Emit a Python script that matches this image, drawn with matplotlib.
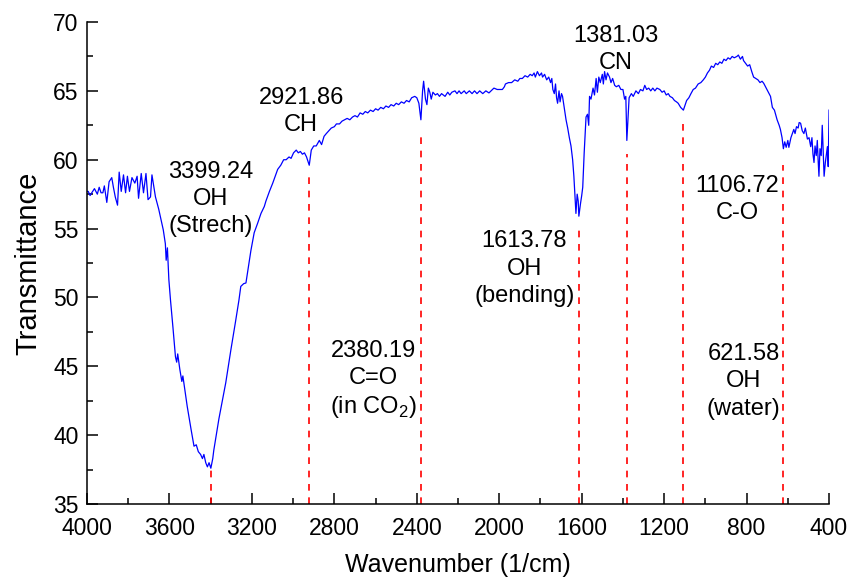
import matplotlib
matplotlib.use("Agg")
import matplotlib.pyplot as plt
from matplotlib.ticker import MultipleLocator

# スペクトル
wavenumber = [
    4000, 3994, 3985, 3977, 3964, 3950, 3941, 3932, 3923, 3916, 3904, 3893, 3880, 3872,
    3863, 3852, 3844, 3834, 3823, 3813, 3804, 3794, 3782, 3768, 3757, 3750, 3737, 3726,
    3714, 3704, 3692, 3685, 3668, 3652, 3640, 3630, 3620, 3616, 3610, 3603, 3595, 3583,
    3571, 3565, 3560, 3550, 3540, 3535, 3514, 3495, 3481, 3470, 3460, 3449, 3440, 3433,
    3424, 3416, 3408, 3399.24, 3390, 3385, 3360, 3327, 3302, 3280, 3263, 3254, 3240, 3229,
    3215, 3205, 3189, 3172, 3156, 3140, 3132, 3115, 3099, 3087, 3075, 3060, 3046, 3034,
    3020, 3010, 2998, 2985, 2975, 2965, 2955, 2945, 2935, 2921.86, 2912, 2900, 2888, 2873,
    2862, 2850, 2839, 2827, 2815, 2800, 2790, 2775, 2763, 2751, 2738, 2725, 2712, 2700,
    2688, 2675, 2662, 2650, 2638, 2625, 2612, 2600, 2588, 2575, 2562, 2550, 2537, 2525,
    2512, 2500, 2488, 2475, 2462, 2450, 2437, 2425, 2410, 2400, 2390, 2380.19, 2372, 2367,
    2358, 2351, 2344, 2337, 2330, 2322, 2310, 2300, 2290, 2280, 2263, 2250, 2240, 2230,
    2215, 2205, 2195, 2185, 2170, 2160, 2145, 2132, 2120, 2108, 2095, 2080, 2065, 2050,
    2040, 2026, 2010, 1985, 1975, 1970, 1955, 1940, 1925, 1910, 1900, 1888, 1875, 1862,
    1850, 1840, 1831, 1825, 1815, 1805, 1795, 1790, 1780, 1770, 1760, 1751, 1745, 1740,
    1733, 1727, 1722, 1717, 1710, 1705, 1698, 1693, 1685, 1676, 1668, 1660, 1652, 1644,
    1638, 1635, 1628, 1622, 1617, 1613.78, 1606, 1600, 1595, 1588, 1579, 1572, 1566, 1562,
    1555, 1545, 1538, 1530, 1524, 1517, 1510, 1500, 1495, 1489, 1482, 1475, 1465, 1458,
    1450, 1440, 1432, 1420, 1410, 1400, 1392, 1386, 1381.03, 1370, 1359, 1350, 1337, 1325,
    1315, 1303, 1294, 1285, 1275, 1265, 1255, 1245, 1235, 1221, 1210, 1200, 1190, 1180,
    1172, 1160, 1150, 1140, 1132, 1120, 1106.72, 1100, 1091, 1080, 1070, 1059, 1048, 1035,
    1022, 1010, 1000, 990, 980, 971, 960, 950, 940, 930, 920, 910, 900, 890,
    880, 870, 860, 847, 840, 830, 820, 815, 805, 795, 785, 775, 766, 755,
    745, 735, 725, 717, 705, 695, 684, 675, 665, 652, 642, 636, 628, 621.58,
    615, 608, 600, 595, 585, 578, 571, 565, 558, 550, 545, 538, 530, 522,
    515, 505, 497, 489, 483, 478, 473, 468, 462, 457, 453, 449, 444, 438,
    433, 428, 424, 418, 412, 408, 404, 400,
]
transmittance = [
    57.7, 57.7, 57.4, 57.6, 57.9, 57.5, 58.0, 57.6, 57.6, 58.1, 56.9, 58.4, 58.7, 58.0,
    57.3, 56.7, 59.1, 57.7, 58.9, 57.6, 58.8, 57.7, 58.7, 58.3, 58.8, 57.2, 59.0, 57.6,
    59.0, 57.1, 57.3, 58.9, 57.3, 56.4, 55.6, 54.9, 53.9, 52.7, 53.6, 51.3, 49.8, 47.8,
    45.7, 45.3, 45.9, 44.8, 43.9, 44.3, 42.1, 40.4, 39.2, 39.3, 38.8, 38.6, 38.3, 38.6,
    38.0, 37.7, 38.0, 37.6, 38.3, 38.9, 41.2, 43.8, 46.2, 48.2, 49.8, 50.8, 51.0, 51.05,
    52.4, 53.4, 54.7, 55.4, 56.1, 56.6, 57.0, 57.7, 58.3, 58.8, 59.3, 59.6, 60.0, 60.0,
    60.2, 60.1, 60.5, 60.7, 60.5, 60.6, 60.4, 60.5, 60.2, 59.6, 60.7, 61.0, 61.0, 61.4,
    61.1, 61.7, 61.9, 62.1, 62.3, 62.4, 62.6, 62.6, 62.8, 62.9, 63.0, 62.9, 63.1, 63.2,
    63.1, 63.4, 63.3, 63.5, 63.4, 63.6, 63.5, 63.7, 63.6, 63.8, 63.7, 63.9, 63.8, 64.0,
    63.9, 64.1, 64.0, 64.2, 64.1, 64.3, 64.2, 64.5, 64.6, 64.5, 64.1, 62.9, 65.0, 65.7,
    64.4, 64.0, 65.2, 64.9, 64.4, 64.9, 64.7, 64.8, 64.6, 64.8, 64.6, 64.9, 64.7, 64.9,
    65.0, 64.8, 65.0, 64.8, 65.0, 64.8, 65.0, 64.8, 65.0, 64.8, 65.0, 64.8, 65.0, 64.85,
    65.0, 65.2, 65.1, 65.1, 65.3, 65.5, 65.6, 65.6, 65.8, 65.7, 65.9, 65.9, 66.1, 66.0,
    66.2, 66.1, 66.3, 66.0, 66.4, 66.1, 66.3, 66.0, 66.2, 65.8, 66.0, 65.6, 65.9, 65.1,
    64.8, 65.5, 64.5, 64.1, 65.0, 64.2, 64.8, 64.6, 63.8, 62.9, 62.3, 61.6, 61.0, 60.0,
    58.8, 58.0, 56.1, 57.5, 57.0, 55.9, 56.8, 57.4, 58.0, 60.5, 63.1, 63.3, 62.5, 64.6,
    64.4, 65.2, 64.7, 65.9, 64.9, 66.0, 65.6, 66.2, 65.5, 66.4, 65.8, 66.3, 66.0, 65.6,
    65.9, 65.4, 65.3, 65.4, 65.1, 65.1, 64.4, 64.6, 61.4, 64.5, 64.8, 64.6, 65.0, 64.8,
    65.1, 65.0, 65.4, 65.1, 65.2, 65.0, 65.2, 65.0, 65.2, 65.1, 64.9, 65.0, 64.7, 64.8,
    64.6, 64.5, 64.3, 64.2, 64.1, 63.8, 63.6, 63.9, 64.3, 64.5, 64.8, 65.1, 65.2, 65.5,
    65.6, 65.8, 66.0, 66.3, 66.5, 66.8, 66.7, 67.0, 66.9, 67.1, 67.0, 67.3, 67.2, 67.4,
    67.3, 67.5, 67.4, 67.5, 67.6, 67.3, 67.5, 67.2, 67.0, 66.8, 66.9, 66.4, 66.0, 65.9,
    65.8, 65.6, 65.7, 65.55, 65.2, 64.9, 64.6, 63.8, 63.6, 62.9, 62.5, 62.2, 61.6, 60.8,
    61.3, 60.9, 61.4, 60.9, 61.6, 61.9, 62.2, 61.9, 62.4, 62.3, 62.7, 62.65, 62.1, 61.9,
    62.3, 61.5, 61.6, 60.95, 61.6, 60.4, 59.8, 61.0, 60.3, 61.4, 60.0, 58.8, 60.8, 60.3,
    62.5, 60.5, 58.8, 59.8, 60.5, 60.95, 59.5, 63.6,
]

# ピーク位置と破線の上端
peaks = [3399.24, 2921.86, 2380.19, 1613.78, 1381.03, 1106.72, 621.58]
peak_tops = [37.5, 58.8, 62.1, 55.3, 60.4, 63.0, 59.6]

# 注釈（中心位置）
labels = ["3399.24\nOH\n(Strech)", "2921.86\nCH", "2380.19\nC=O\n(in CO$_2$)",
          "1613.78\nOH\n(bending)", "1381.03\nCN", "1106.72\nC-O", "621.58\nOH\n(water)"]
label_x = [3400, 2961, 2610, 1878, 1434, 845, 815]
label_y = [57.15, 63.5, 44.0, 52.1, 68.0, 57.1, 43.9]

plt.rcParams["font.family"] = ["Liberation Sans", "DejaVu Sans"]
plt.rcParams["mathtext.fontset"] = "custom"
plt.rcParams["mathtext.rm"] = "Liberation Sans"

fig = plt.figure(figsize=(8.49, 5.79), dpi=100)
ax = fig.add_axes([0.1025, 0.1295, 0.874, 0.8325])

ax.plot(wavenumber, transmittance, color="#0000ff", lw=0.9)

for p, top in zip(peaks, peak_tops):
    ax.plot([p, p], [35, top], color="#ff0000", lw=1.2, ls=(0, (4, 4)))

for t, x, y in zip(labels, label_x, label_y):
    ax.text(x, y, t, ha="center", va="center", fontsize=17, linespacing=1.3)

ax.set_xlim(4000, 400)
ax.set_ylim(35, 70)
ax.xaxis.set_major_locator(MultipleLocator(400))
ax.xaxis.set_minor_locator(MultipleLocator(200))
ax.yaxis.set_major_locator(MultipleLocator(5))
ax.yaxis.set_minor_locator(MultipleLocator(2.5))
ax.tick_params(which="both", direction="in", width=1.1, labelsize=16.5)
ax.tick_params(which="major", length=8)
ax.tick_params(which="minor", length=4)
ax.tick_params(axis="x", which="major", pad=9)
ax.tick_params(axis="y", which="major", pad=6)
ax.spines["top"].set_visible(False)
ax.spines["right"].set_visible(False)
ax.spines["left"].set_linewidth(1.1)
ax.spines["bottom"].set_linewidth(1.1)

ax.set_xlabel("Wavenumber (1/cm)", fontsize=18, labelpad=10)
ax.set_ylabel("Transmittance", fontsize=21, labelpad=8)

fig.savefig("out.png", dpi=100)
